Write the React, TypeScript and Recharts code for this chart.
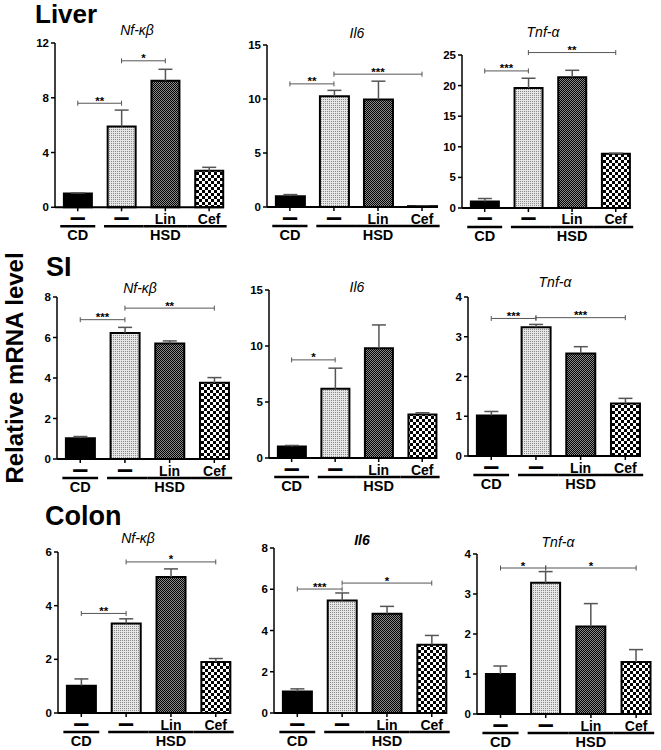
import React from 'react';
import { BarChart, Bar, XAxis, YAxis, Cell, ErrorBar, ReferenceLine } from 'recharts';

const FONT = "'Liberation Sans', Arial, Helvetica, sans-serif";

// ---------- shared categories ----------
const xPositions = [0, 1, 2, 3];
const tickLabels = ['—', '—', 'Lin', 'Cef'];
const groupLabels = ['CD', 'HSD', 'HSD', 'HSD'];

// ---------- Liver ----------
const liverNfkbMean = [1.0, 5.9, 9.25, 2.67];
const liverNfkbErr = [0.05, 1.2, 0.83, 0.25];
const liverNfkbTicks = [0, 4, 8, 12];
const liverNfkbSig = [
  { from: 0, to: 1, y: 7.6, label: '**' },
  { from: 1, to: 2, y: 10.7, label: '*' },
];

const liverIl6Mean = [1.0, 10.25, 9.95, 0.08];
const liverIl6Err = [0.15, 0.55, 1.7, 0];
const liverIl6Ticks = [0, 5, 10, 15];
const liverIl6Sig = [
  { from: 0, to: 1, y: 11.4, label: '**' },
  { from: 1, to: 3, y: 12.3, label: '***' },
];

const liverTnfMean = [1.05, 19.6, 21.35, 8.85];
const liverTnfErr = [0.5, 1.6, 1.15, 0.1];
const liverTnfTicks = [0, 5, 10, 15, 20, 25];
const liverTnfSig = [
  { from: 0, to: 1, y: 22.4, label: '***' },
  { from: 1, to: 3, y: 25.4, label: '**' },
];

// ---------- SI ----------
const siNfkbMean = [1.03, 6.22, 5.7, 3.76];
const siNfkbErr = [0.08, 0.28, 0.13, 0.26];
const siNfkbTicks = [0, 2, 4, 6, 8];
const siNfkbSig = [
  { from: 0, to: 1, y: 6.88, label: '***' },
  { from: 1, to: 3, y: 7.45, label: '**' },
];

const siIl6Mean = [1.03, 6.18, 9.8, 3.89];
const siIl6Err = [0.09, 1.84, 2.08, 0.15];
const siIl6Ticks = [0, 5, 10, 15];
const siIl6Sig = [{ from: 0, to: 1, y: 8.76, label: '*' }];

const siTnfMean = [1.02, 3.24, 2.58, 1.32];
const siTnfErr = [0.1, 0.07, 0.17, 0.13];
const siTnfTicks = [0, 1, 2, 3, 4];
const siTnfSig = [
  { from: 0, to: 1, y: 3.46, label: '***' },
  { from: 1, to: 3, y: 3.48, label: '***' },
];

// ---------- Colon ----------
const colonNfkbMean = [1.02, 3.34, 5.07, 1.9];
const colonNfkbErr = [0.25, 0.17, 0.3, 0.13];
const colonNfkbTicks = [0, 2, 4, 6];
const colonNfkbSig = [
  { from: 0, to: 1, y: 3.71, label: '**' },
  { from: 1, to: 3, y: 5.63, label: '*' },
];

const colonIl6Mean = [1.04, 5.46, 4.81, 3.31];
const colonIl6Err = [0.13, 0.36, 0.36, 0.45];
const colonIl6Ticks = [0, 2, 4, 6, 8];
const colonIl6Sig = [
  { from: 0, to: 1, y: 6.01, label: '***' },
  { from: 1, to: 3, y: 6.3, label: '*' },
];

const colonTnfMean = [1.0, 3.28, 2.19, 1.3];
const colonTnfErr = [0.2, 0.28, 0.57, 0.31];
const colonTnfTicks = [0, 1, 2, 3, 4];
const colonTnfSig = [
  { from: 0, to: 1, y: 3.65, label: '*' },
  { from: 1, to: 3, y: 3.65, label: '*' },
];

const rowLabels = ['Liver', 'SI', 'Colon'];
const yAxisTitle = 'Relative mRNA level';

// ---------- layout (positions only) ----------
const X_MIN = -0.52;
const X_MAX = 3.34;
const YW = 30;
const MT = 24;
const MR = 12;
const XH = 44;

type Sig = { from: number; to: number; y: number; label: string };
type Panel = {
  id: string;
  title: string;
  titleBold?: boolean;
  mean: number[];
  err: number[];
  ticks: number[];
  sig: Sig[];
  pl: number;
  pt: number;
  pw: number;
  ph: number;
  tx: number;
  ty: number;
};

const panels: Panel[] = [
  { id: 'p1', title: 'Nf-κβ', mean: liverNfkbMean, err: liverNfkbErr, ticks: liverNfkbTicks, sig: liverNfkbSig, pl: 55, pt: 42.7, pw: 169, ph: 164.3, tx: 137, ty: 35 },
  { id: 'p2', title: 'Il6', mean: liverIl6Mean, err: liverIl6Err, ticks: liverIl6Ticks, sig: liverIl6Sig, pl: 266.7, pt: 45, pw: 170, ph: 162, tx: 357, ty: 38 },
  { id: 'p3', title: 'Tnf-α', mean: liverTnfMean, err: liverTnfErr, ticks: liverTnfTicks, sig: liverTnfSig, pl: 462, pt: 55, pw: 168.6, ph: 153, tx: 543, ty: 37 },
  { id: 'p4', title: 'Nf-κβ', mean: siNfkbMean, err: siNfkbErr, ticks: siNfkbTicks, sig: siNfkbSig, pl: 57, pt: 297, pw: 172.5, ph: 162, tx: 140, ty: 293 },
  { id: 'p5', title: 'Il6', mean: siIl6Mean, err: siIl6Err, ticks: siIl6Ticks, sig: siIl6Sig, pl: 269, pt: 290, pw: 168, ph: 168, tx: 357, ty: 292 },
  { id: 'p6', title: 'Tnf-α', mean: siTnfMean, err: siTnfErr, ticks: siTnfTicks, sig: siTnfSig, pl: 468, pt: 297, pw: 172.5, ph: 159, tx: 555, ty: 287 },
  { id: 'p7', title: 'Nf-κβ', mean: colonNfkbMean, err: colonNfkbErr, ticks: colonNfkbTicks, sig: colonNfkbSig, pl: 58, pt: 552, pw: 173, ph: 161, tx: 138, ty: 543 },
  { id: 'p8', title: 'Il6', titleBold: true, mean: colonIl6Mean, err: colonIl6Err, ticks: colonIl6Ticks, sig: colonIl6Sig, pl: 274, pt: 548, pw: 173, ph: 165, tx: 362, ty: 545 },
  { id: 'p9', title: 'Tnf-α', mean: colonTnfMean, err: colonTnfErr, ticks: colonTnfTicks, sig: colonTnfSig, pl: 477, pt: 554, pw: 174.5, ph: 160, tx: 558, ty: 547 },
];

function GroupTick(props: any) {
  const { x, y, payload, S } = props;
  const i = xPositions.indexOf(payload.value);
  if (i < 0) return null;
  const label = tickLabels[i];
  const g = groupLabels[i];
  const sameL = i > 0 && groupLabels[i - 1] === g;
  const sameR = i < groupLabels.length - 1 && groupLabels[i + 1] === g;
  const left = sameL ? x - S / 2 : x - 0.4 * S;
  const right = sameR ? x + S / 2 : x + 0.4 * S;
  const members = groupLabels.map((gg, k) => (gg === g ? k : -1)).filter((k) => k >= 0);
  const mid = members[Math.floor((members.length - 1) / 2)];
  const labelX = members.length % 2 === 1 ? x : x + S / 2;
  const isDash = label === '—';
  return (
    <g>
      <text
        x={x}
        y={isDash ? y + 10.5 : y + 12.5}
        textAnchor="middle"
        fontFamily={FONT}
        fontSize={isDash ? 13 : 14}
        fontWeight={700}
        fill="#000"
        stroke={isDash ? '#000' : 'none'}
        strokeWidth={isDash ? 1.3 : 0}
      >
        {label}
      </text>
      <line x1={left} x2={right} y1={y + 15} y2={y + 15} stroke="#000" strokeWidth={2.5} />
      {i === mid && (
        <text x={labelX} y={y + 29} textAnchor="middle" fontFamily={FONT} fontSize={14.5} fontWeight={700} fill="#000">
          {g}
        </text>
      )}
    </g>
  );
}

const bracketShape = (stars: string) => (p: any) => {
  const { x1, y1, x2, y2 } = p;
  return (
    <g>
      <line x1={x1} y1={y1} x2={x2} y2={y2} stroke="#555" strokeWidth={1} />
      <line x1={x1} y1={y1 - 2.5} x2={x1} y2={y1 + 2.5} stroke="#555" strokeWidth={1} />
      <line x1={x2} y1={y2 - 2.5} x2={x2} y2={y2 + 2.5} stroke="#555" strokeWidth={1} />
      <text x={(x1 + x2) / 2} y={y1 + 1.5} textAnchor="middle" fontFamily={FONT} fontSize={11.5} fontWeight={700} fill="#000">
        {stars}
      </text>
    </g>
  );
};

function PanelChart({ p }: { p: Panel }) {
  const S = p.pw / (X_MAX - X_MIN);
  const barSize = Math.round(S * 0.65);
  const yMax = p.ticks[p.ticks.length - 1];
  const data = xPositions.map((x, i) => ({ x, v: p.mean[i], e: [0, p.err[i]] }));
  const fills = ['#000', `url(#${p.id}-light)`, `url(#${p.id}-dark)`, `url(#${p.id}-check)`];
  return (
    <div style={{ position: 'absolute', left: p.pl - YW, top: p.pt - MT }}>
      <BarChart
        width={YW + p.pw + MR}
        height={MT + p.ph + XH}
        data={data}
        margin={{ top: MT, right: MR, bottom: 0, left: 0 }}
      >
        <defs>
          <pattern id={`${p.id}-light`} width={2} height={2} patternUnits="userSpaceOnUse">
            <rect x={0} y={0} width={2} height={2} fill="#e6e6e6" />
            <rect x={0} y={0} width={1} height={1} fill="#8a8a8a" />
          </pattern>
          <pattern id={`${p.id}-dark`} width={2} height={2} patternUnits="userSpaceOnUse">
            <rect x={0} y={0} width={2} height={2} fill="#8c8c8c" />
            <rect x={0} y={0} width={1} height={1} fill="#000" />
            <rect x={1} y={1} width={1} height={1} fill="#000" />
          </pattern>
          <pattern id={`${p.id}-check`} width={6} height={6} patternUnits="userSpaceOnUse">
            <rect x={0} y={0} width={6} height={6} fill="#fff" />
            <rect x={0} y={0} width={3} height={3} fill="#000" />
            <rect x={3} y={3} width={3} height={3} fill="#000" />
          </pattern>
        </defs>
        <XAxis
          dataKey="x"
          type="number"
          domain={[X_MIN, X_MAX]}
          ticks={xPositions}
          interval={0}
          height={XH}
          axisLine={{ stroke: '#000', strokeWidth: 2 }}
          tickLine={{ stroke: '#000', strokeWidth: 1.5 }}
          tickSize={4}
          tickMargin={0}
          tick={(tp: any) => <GroupTick {...tp} S={S} />}
        />
        <YAxis
          type="number"
          domain={[0, yMax]}
          ticks={p.ticks}
          interval={0}
          width={YW}
          axisLine={{ stroke: '#000', strokeWidth: 1.5 }}
          tickLine={{ stroke: '#000', strokeWidth: 1.5 }}
          tickSize={4}
          tickMargin={2}
          tick={{ fill: '#000', fontSize: 11.5, fontWeight: 700, fontFamily: FONT }}
        />
        <Bar dataKey="v" barSize={barSize} isAnimationActive={false} stroke="#000" strokeWidth={2}>
          {data.map((d, i) => (
            <Cell key={`c${i}`} fill={fills[i]} />
          ))}
          <ErrorBar dataKey="e" width={7} stroke="#555" strokeWidth={1.5} direction="y" isAnimationActive={false} />
        </Bar>
        {p.sig.map((s, i) => (
          <ReferenceLine
            key={`s${i}`}
            segment={[
              { x: s.from, y: s.y },
              { x: s.to, y: s.y },
            ]}
            ifOverflow="visible"
            shape={bracketShape(s.label)}
          />
        ))}
      </BarChart>
    </div>
  );
}

export default function App() {
  return (
    <div
      style={{
        position: 'absolute',
        left: 0,
        top: 0,
        width: 661,
        height: 750,
        background: '#fff',
        overflow: 'hidden',
        fontFamily: FONT,
      }}
    >
      <style>{'.recharts-errorBar line:last-of-type{display:none}'}</style>
      {panels.map((p) => (
        <PanelChart key={p.id} p={p} />
      ))}
      <svg width={661} height={750} style={{ position: 'absolute', left: 0, top: 0, pointerEvents: 'none' }}>
        <text x={35} y={23} fontFamily={FONT} fontSize={26} fontWeight={700} fill="#000">{rowLabels[0]}</text>
        <text x={46} y={276} fontFamily={FONT} fontSize={27} fontWeight={700} fill="#000">{rowLabels[1]}</text>
        <text x={45} y={525} fontFamily={FONT} fontSize={27} fontWeight={700} fill="#000">{rowLabels[2]}</text>
        <text
          x={23}
          y={368}
          transform="rotate(-90 23 368)"
          textAnchor="middle"
          fontFamily={FONT}
          fontSize={24}
          fontWeight={700}
          fill="#000"
        >
          {yAxisTitle}
        </text>
        {panels.map((p) => (
          <text
            key={`t${p.id}`}
            x={p.tx}
            y={p.ty}
            textAnchor="middle"
            fontFamily={FONT}
            fontSize={14}
            fontStyle="italic"
            fontWeight={p.titleBold ? 700 : 400}
            fill="#000"
          >
            {p.title}
          </text>
        ))}
      </svg>
    </div>
  );
}
